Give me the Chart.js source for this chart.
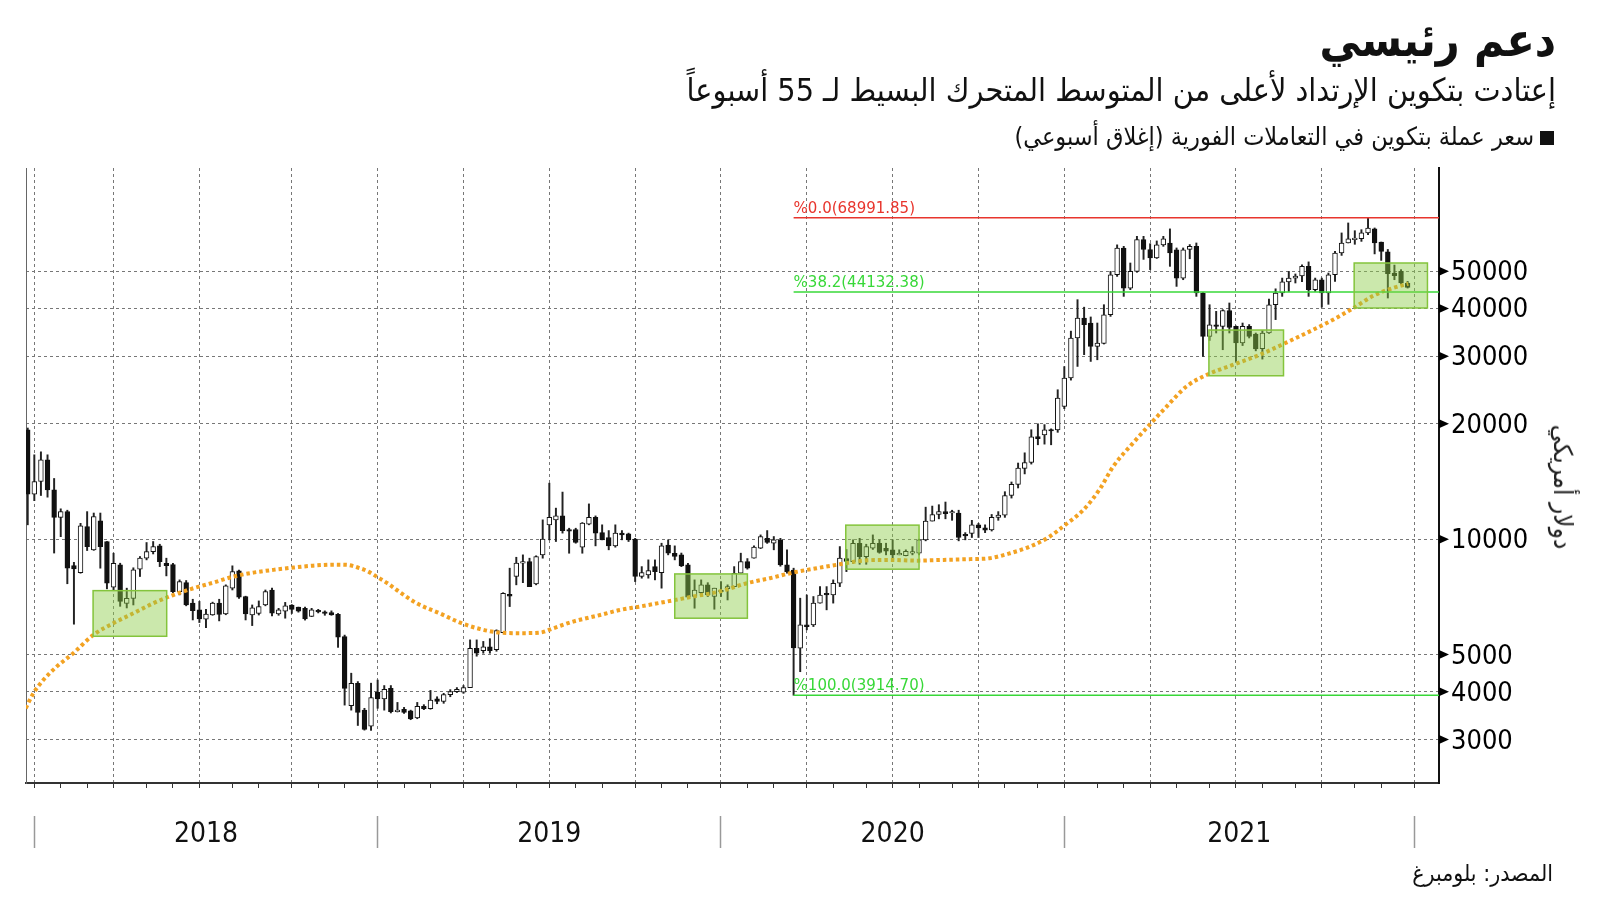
<!DOCTYPE html>
<html lang="ar">
<head>
<meta charset="utf-8">
<title>دعم رئيسي</title>
<script src="https://cdn.jsdelivr.net/npm/chart.js@4.4.0/dist/chart.umd.min.js"></script>
<style>
  html, body { margin: 0; padding: 0; background: #fff; }
  #wrap { position: relative; width: 1600px; height: 901px; overflow: hidden; }
  #chart { position: absolute; left: 0; top: 0; }
  .txt { position: absolute; white-space: nowrap; direction: rtl; color: #111;
         font-family: "DejaVu Sans Condensed", "DejaVu Sans", sans-serif; line-height: 1; }
  #title { right: 44px; top: 17px; font-size: 46px; font-weight: bold; }
  #subtitle { right: 44px; top: 74px; font-size: 32px; }
  #legend { right: 46px; top: 124px; font-size: 25px; }
  #legend .sq { display: inline-block; width: 14px; height: 14px; background: #111; margin-left: 6px; vertical-align: 0px; }
  #source { right: 47px; top: 862px; font-size: 23px; }
  #ytitle { left: 1563px; top: 487px; font-size: 26px; color: #222; transform: translate(-50%, -50%) rotate(90deg); }
</style>
</head>
<body>
<div id="wrap">
  <canvas id="chart" width="1600" height="901"></canvas>
  <div class="txt" id="title">دعم رئيسي</div>
  <div class="txt" id="subtitle">إعتادت بتكوين الإرتداد لأعلى من المتوسط المتحرك البسيط لـ 55 أسبوعاً</div>
  <div class="txt" id="legend"><span class="sq"></span>سعر عملة بتكوين في التعاملات الفورية (إغلاق أسبوعي)</div>
  <div class="txt" id="source">المصدر: بلومبرغ</div>
  <div class="txt" id="ytitle">دولار أمريكي</div>
</div>
<script>
// bougies hebdomadaires, index 0 = semaine du 18-24 déc. 2017
const opens = [
  19300, 13100, 14140, 16100, 13450, 11400, 11800, 8530, 8180, 10790,
  9380, 11160, 9860, 7490, 8570, 6800, 7010, 8350, 8920, 9280,
  9610, 8655, 8590, 7300, 7700, 6810, 6536, 6180, 6340, 6810,
  6380, 7450, 8270, 7085, 6340, 6400, 6735, 7370, 6380, 6490,
  6735, 6650, 6600, 6290, 6510, 6430, 6430, 6370, 5570, 3680,
  4205, 3580, 3250, 3985, 3830, 4080, 3550, 3600, 3565, 3415,
  3665, 3610, 3830, 3770, 3930, 4000, 3990, 4100, 5190, 5120,
  5240, 5150, 5705, 7180, 7990, 8660, 8740, 7645, 9100, 10900,
  11230, 11500, 10600, 10600, 9530, 10950, 11410, 10400, 10100, 9605,
  10370, 10330, 10000, 7990, 8070, 8480, 8180, 9650, 9190, 9100,
  8570, 7085, 7255, 7600, 7085, 7370, 7430, 7520, 8150, 8740,
  8920, 9480, 10050, 9760, 9960, 8570, 8300, 5195, 5975, 5975,
  6810, 7220, 7150, 7675, 8900, 8740, 9760, 9000, 9470, 9760,
  9470, 9380, 9100, 9050, 9190, 9190, 9960, 11150, 11600, 11810,
  11700, 11700, 10300, 10350, 10900, 10700, 10570, 11400, 11550, 13000,
  13900, 15300, 15850, 18530, 18720, 19300, 19290, 22190, 26330, 33490,
  37760, 36640, 31840, 32400, 38510, 48980, 57520, 45200, 49960, 60470,
  57000, 54200, 58600, 59270, 56900, 48000, 57000, 58080, 43890, 33810,
  36270, 35910, 39500, 35910, 32490, 35910, 34300, 31400, 34510, 40900,
  43890, 46900, 48000, 48600, 51500, 44770, 47530, 43890, 48980, 55810,
  59270, 60500, 60800, 63000, 64500, 59600, 56200, 49480, 49960, 46600
];
const highs = [
  19500, 16600, 16900, 16600, 14400, 12000, 11900, 8700, 11000, 11800,
  11700, 11700, 9860, 9190, 8655, 7450, 8420, 9010, 9800, 9860,
  9700, 8920, 8650, 7830, 7800, 6970, 6880, 6560, 6850, 6970,
  7600, 8520, 8300, 7100, 6735, 6900, 7370, 7450, 6600, 6840,
  6750, 6650, 6650, 6600, 6560, 6500, 6500, 6400, 5620, 4470,
  4250, 3620, 4210, 4290, 4150, 4150, 3750, 3640, 3580, 3750,
  3700, 4030, 3880, 3960, 4050, 4100, 4150, 5460, 5460, 5410,
  5500, 5800, 7250, 8400, 8970, 9100, 8920, 9050, 11230, 14000,
  12050, 13270, 10680, 10680, 11050, 12360, 11500, 10900, 10530, 10900,
  10530, 10370, 10050, 8480, 8830, 8830, 9760, 9960, 9605, 9200,
  8650, 7830, 7830, 7700, 7450, 7750, 7600, 8480, 9193, 8900,
  9605, 10260, 10530, 10160, 10050, 9380, 8400, 7015, 7150, 7085,
  7520, 7520, 7830, 9565, 9400, 9960, 10050, 9700, 10260, 9960,
  9760, 9960, 9380, 9380, 9560, 10000, 12120, 12200, 12300, 12500,
  11900, 11900, 10400, 11200, 11000, 10900, 11600, 11800, 13300, 14100,
  15800, 16800, 19300, 20000, 19900, 19400, 24540, 28200, 34900, 42160,
  40300, 38000, 36640, 40900, 49960, 58600, 58080, 52550, 61680, 61680,
  59000, 60000, 61680, 64500, 57520, 57520, 58700, 59270, 44000, 40900,
  39300, 39700, 41330, 36000, 36640, 36300, 34510, 35000, 42300, 45000,
  48000, 49960, 49200, 52000, 52900, 48000, 48000, 49480, 56360, 62950,
  66840, 63800, 64200, 68990, 64860, 59600, 57000, 51900, 50500, 47060
];
const lows = [
  10900, 12600, 13000, 12870, 9200, 10150, 7650, 6000, 8150, 9340,
  9350, 8400, 7420, 7370, 6680, 6615, 6735, 7990, 8830, 9150,
  8480, 8020, 7250, 7155, 6700, 6155, 6060, 5875, 6330, 6120,
  6350, 7370, 7000, 6155, 5950, 6340, 6700, 6310, 6330, 6220,
  6400, 6450, 6150, 6280, 6420, 6330, 6330, 5220, 3690, 3580,
  3265, 3175, 3170, 3620, 3580, 3520, 3540, 3510, 3380, 3400,
  3590, 3600, 3720, 3730, 3880, 3980, 3960, 4100, 4950, 5040,
  5040, 5100, 5700, 6670, 7600, 7700, 7520, 7600, 8920, 9960,
  9860, 10370, 9190, 9760, 9190, 10900, 9605, 9960, 9380, 9530,
  9960, 9860, 7750, 7910, 7910, 7830, 7450, 9100, 8830, 8480,
  7015, 6605, 7085, 7085, 6565, 7085, 6940, 7520, 8150, 8350,
  8920, 9450, 9750, 9380, 8500, 8150, 3915, 4510, 5800, 5915,
  6810, 6540, 6810, 7520, 8230, 8650, 8600, 8600, 9400, 9190,
  9100, 8920, 9100, 9045, 9100, 9100, 9900, 11150, 11300, 11300,
  11200, 9900, 9960, 10100, 10100, 10400, 10500, 11200, 11400, 12800,
  13600, 14800, 15700, 17630, 17700, 17630, 19000, 21900, 26000, 28230,
  30300, 29090, 29380, 32300, 38130, 48480, 43000, 44770, 49700, 53700,
  50500, 54000, 58080, 51500, 45660, 47530, 53900, 43000, 29980, 33000,
  34510, 31210, 34510, 29090, 32000, 33490, 31000, 29500, 34400, 37400,
  43000, 44300, 46600, 47000, 43000, 44300, 40300, 41000, 47060, 55000,
  59270, 58800, 59840, 62300, 55500, 53380, 42580, 47530, 46120, 45200
];
const closes = [
  13100, 14140, 16100, 13450, 11400, 11800, 8400, 8360, 10830, 9565,
  11460, 9565, 7676, 8655, 6880, 7010, 8315, 8920, 9280, 9565,
  8740, 8530, 7300, 7750, 6735, 6510, 6190, 6380, 6810, 6360,
  7550, 8230, 7060, 6380, 6615, 6670, 7300, 6410, 6536, 6700,
  6560, 6490, 6190, 6536, 6460, 6400, 6340, 5550, 4080, 4205,
  3530, 3190, 3860, 3830, 4055, 3550, 3570, 3530, 3395, 3665,
  3610, 3806, 3770, 3930, 4000, 4055, 4100, 5190, 5040, 5240,
  5120, 5770, 7220, 7100, 8660, 8740, 7520, 9010, 10000, 11410,
  11500, 10530, 10500, 9800, 11010, 11410, 10370, 9960, 9605, 10370,
  10260, 9960, 7990, 8180, 8280, 8230, 9605, 9190, 9010, 8520,
  7055, 7370, 7600, 7155, 7450, 7300, 7520, 8150, 8740, 8400,
  9530, 10160, 9800, 9960, 8570, 8230, 5200, 5975, 5915, 6810,
  7150, 7150, 7675, 8920, 8750, 9760, 9000, 9565, 9760, 9230,
  9300, 9100, 9190, 9290, 9280, 9960, 11150, 11600, 11810, 11650,
  11750, 10100, 10200, 10900, 10700, 10550, 11400, 11550, 13000, 13900,
  15320, 15850, 18500, 18280, 19300, 19150, 23340, 26330, 33490, 37760,
  36300, 31840, 32490, 38510, 48980, 57520, 45200, 49960, 60470, 57000,
  54200, 58600, 60800, 55810, 48000, 56900, 58080, 43890, 33810, 36270,
  35910, 39500, 35700, 32490, 35910, 33810, 31370, 34510, 40900, 43890,
  46900, 48000, 48600, 51500, 44770, 47530, 43890, 48980, 55810, 59270,
  60800, 60800, 63000, 64860, 59270, 56360, 49300, 48700, 46600, 45400
];

// moyenne mobile simple 55 semaines
const maWeeks = [-0.3, 0.85, 2.36, 4.39, 6.9, 9.93, 12.96, 15.99, 19.02, 22.05,
  25.08, 28.1, 31.14, 34.17, 37.2, 40.22, 43.25, 46.28, 48.3, 50.3,
  51.6, 52.85, 54.4, 56.4, 58.9, 62.4, 65.5, 68.5, 71.5, 74.6,
  77.6, 79.6, 82.6, 86.7, 89.7, 92.7, 96.8, 100.8, 104.8, 108.9,
  112.4, 115.9, 119.5, 123, 126.5, 130.6, 134.6, 138.7, 142.7, 145.7,
  148.8, 151.8, 154.8, 156.8, 159.9, 162.4, 164.4, 167.4, 169.9, 172.5,
  175.5, 178.6, 182.6, 186.6, 190.7, 194.7, 197.7, 200.8, 203.8, 206.8, 209.1];
const maValues = [3620, 3960, 4290, 4650, 5040, 5625, 6035, 6405, 6805, 7150,
  7445, 7700, 7985, 8180, 8315, 8430, 8530, 8580, 8570, 8400,
  8230, 7985, 7690, 7265, 6805, 6405, 6055, 5830, 5705, 5685,
  5705, 5855, 6095, 6340, 6536, 6670, 6875, 7085, 7300, 7675,
  7910, 8180, 8400, 8600, 8790, 8830, 8790, 8830, 8870, 8920,
  9190, 9565, 10160, 10790, 11930, 13530, 15470, 17810, 19880, 22190,
  25030, 26850, 28520, 30280, 32620, 35200, 37370, 40100, 43170, 45220, 46400];

// niveaux de Fibonacci
const fibStart = 116;
const fibLevels = [68991.85, 44132.38, 3914.70];
const fibLabels = ["%0.0(68991.85)", "%38.2(44132.38)", "%100.0(3914.70)"];
const fibColors = ["#e8352d", "#38d838", "#38d838"];

// zones vertes
const boxStart = [9.9, 98.0, 123.9, 178.9, 200.9];
const boxEnd = [21.05, 109.0, 135.0, 190.2, 212.0];
const boxLow = [5580, 6220, 8350, 26690, 40100];
const boxHigh = [7340, 8115, 10880, 35130, 52550];

// axes
const yTicks = [3000, 4000, 5000, 10000, 20000, 30000, 40000, 50000];
const monthTicks = [1, 5, 9, 13, 18, 22, 26, 31, 35, 40, 44, 48, 53,
  57, 61, 66, 70, 74, 79, 83, 87, 92, 96, 100, 105,
  109, 113, 118, 122, 127, 131, 135, 140, 144, 148, 153, 157,
  162, 166, 170, 174, 179, 183, 187, 192, 196, 201, 205, 210];
const quarterTicks = [1, 13, 26, 40, 53, 66, 79, 92, 105, 118, 131, 144, 157, 170, 183, 196, 210];
const yearBounds = [1, 53, 105, 157, 210];
const yearCenters = [27, 79, 131, 183.5];
const yearLabels = ["2018", "2019", "2020", "2021"];

const xMin = -0.26, xMax = 213.75;
const yMin = 2311, yMax = 92990;

const wickData = highs.map((h, i) => ({ x: i, y: [lows[i], h] }));
const bodyData = opens.map((o, i) => ({ x: i, y: [o, closes[i]] }));
const bodyFill = opens.map((o, i) => closes[i] >= o ? "#ffffff" : "#111111");

const fibSets = fibLevels.map((lvl, k) => ({
  type: "line",
  data: [{ x: fibStart, y: lvl }, { x: xMax, y: lvl }],
  borderColor: fibColors[k],
  borderWidth: 1.6,
  pointRadius: 0,
  order: 1
}));

const overlays = {
  id: "overlays",
  afterDatasetsDraw(chart) {
    const { ctx, chartArea: a, scales: { x, y } } = chart;
    ctx.save();
    ctx.beginPath();
    ctx.rect(a.left, a.top, a.right - a.left, a.bottom - a.top);
    ctx.clip();
    for (let k = 0; k < boxStart.length; k++) {
      const x1 = x.getPixelForValue(boxStart[k]);
      const x2 = x.getPixelForValue(boxEnd[k]);
      const y1 = y.getPixelForValue(boxHigh[k]);
      const y2 = y.getPixelForValue(boxLow[k]);
      ctx.fillStyle = "rgba(140, 204, 70, 0.45)";
      ctx.fillRect(x1, y1, x2 - x1, y2 - y1);
      ctx.strokeStyle = "#84c43c";
      ctx.lineWidth = 1.5;
      ctx.strokeRect(x1, y1, x2 - x1, y2 - y1);
    }
    ctx.font = '15px "DejaVu Sans", sans-serif';
    ctx.textAlign = "left";
    ctx.textBaseline = "alphabetic";
    for (let k = 0; k < fibLevels.length; k++) {
      ctx.fillStyle = fibColors[k];
      ctx.fillText(fibLabels[k], x.getPixelForValue(fibStart), y.getPixelForValue(fibLevels[k]) - 5);
    }
    ctx.restore();
  },
  afterDraw(chart) {
    const { ctx, chartArea: a, scales: { y } } = chart;
    ctx.save();
    ctx.fillStyle = "#000";
    y.ticks.forEach(t => {
      const py = y.getPixelForValue(t.value);
      ctx.beginPath();
      ctx.moveTo(a.right, py - 4.5);
      ctx.lineTo(a.right + 10, py);
      ctx.lineTo(a.right, py + 4.5);
      ctx.closePath();
      ctx.fill();
    });
    ctx.restore();
  }
};

new Chart(document.getElementById("chart"), {
  type: "bar",
  data: {
    datasets: [
      ...fibSets,
      {
        type: "line",
        data: maWeeks.map((w, k) => ({ x: w, y: maValues[k] })),
        borderColor: "#f3a222",
        borderWidth: 4,
        borderDash: [3.5, 3],
        borderCapStyle: "butt",
        cubicInterpolationMode: "monotone",
        pointRadius: 0,
        order: 2
      },
      {
        data: bodyData,
        backgroundColor: bodyFill,
        borderColor: "#111111",
        borderWidth: 1,
        borderSkipped: false,
        barThickness: 4.8,
        minBarLength: 1.5,
        grouped: false,
        order: 3
      },
      {
        data: wickData,
        backgroundColor: "#222222",
        borderWidth: 0,
        barThickness: 1.3,
        grouped: false,
        order: 4
      }
    ]
  },
  options: {
    responsive: false,
    animation: false,
    devicePixelRatio: 1,
    layout: { padding: { top: 168, left: 26, right: 0, bottom: 0 } },
    plugins: { legend: { display: false }, tooltip: { enabled: false } },
    scales: {
      x: {
        type: "linear", position: "bottom", weight: 0,
        min: xMin, max: xMax, offset: false,
        afterBuildTicks: s => { s.ticks = monthTicks.map(v => ({ value: v })); },
        afterFit: s => { s.height = 33; },
        ticks: { display: false, autoSkip: false },
        grid: {
          offset: false,
          color: c => (c.tick && quarterTicks.includes(c.tick.value)) ? "#777777" : "rgba(0,0,0,0)",
          lineWidth: 1, tickColor: "#333333", tickLength: 5, tickWidth: 1
        },
        border: { display: true, color: "#333333", width: 2, dash: [3, 3] }
      },
      x2: {
        type: "linear", position: "bottom", weight: 1,
        min: xMin, max: xMax, offset: false,
        afterBuildTicks: s => { s.ticks = yearBounds.concat(yearCenters).sort((a, b) => a - b).map(v => ({ value: v })); },
        afterFit: s => { s.height = 85; },
        ticks: {
          autoSkip: false, maxRotation: 0, padding: -30, color: "#111",
          font: { family: '"DejaVu Sans Condensed", "DejaVu Sans", sans-serif', size: 28 },
          callback: v => { const k = yearCenters.indexOf(v); return k >= 0 ? yearLabels[k] : ""; }
        },
        grid: {
          offset: false, drawOnChartArea: false, tickLength: 32, tickWidth: 1.5,
          color: "rgba(0,0,0,0)",
          tickColor: c => (c.tick && yearBounds.includes(c.tick.value)) ? "#999999" : "rgba(0,0,0,0)"
        },
        border: { display: false }
      },
      y: {
        type: "logarithmic", position: "right",
        min: yMin, max: yMax,
        afterBuildTicks: s => { s.ticks = yTicks.map(v => ({ value: v })); },
        afterFit: s => { s.width = 161; },
        ticks: {
          autoSkip: false, padding: 12, color: "#000", labelOffset: 2,
          font: { family: '"DejaVu Sans Condensed", "DejaVu Sans", sans-serif', size: 27 },
          callback: v => String(v)
        },
        grid: { color: "#777777", lineWidth: 1, drawTicks: false },
        border: { display: true, color: "#111111", width: 2, dash: [3, 3] }
      },
      yL: {
        type: "linear", position: "left", min: 0, max: 1,
        afterFit: s => { s.width = 0; },
        ticks: { display: false },
        grid: { display: false, drawTicks: false },
        border: { display: true, color: "#666666", width: 1 }
      }
    }
  },
  plugins: [overlays]
});
</script>
</body>
</html>
